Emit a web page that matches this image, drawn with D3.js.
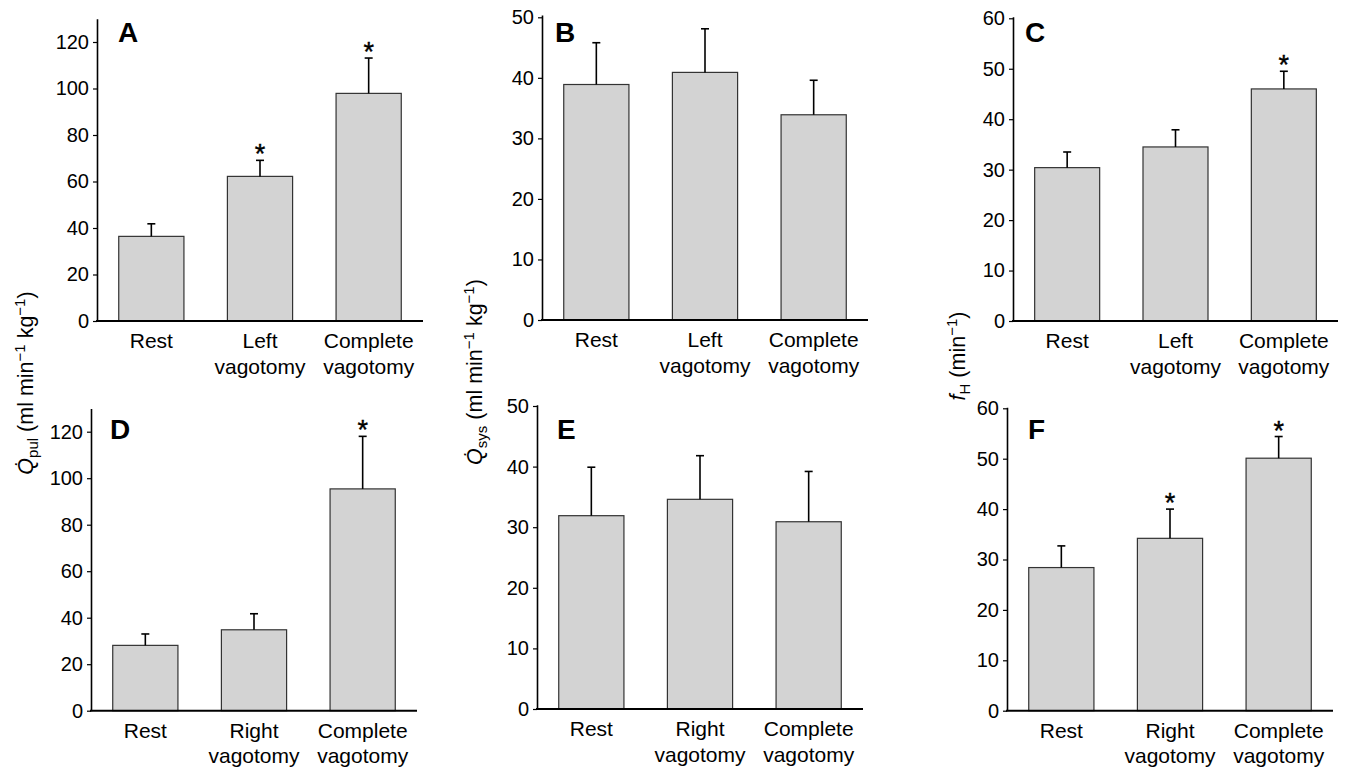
<!DOCTYPE html>
<html><head><meta charset="utf-8">
<script src="https://cdn.jsdelivr.net/npm/d3@7"></script>
<style>
html,body{margin:0;padding:0;background:#fff;}
text{font-family:"Liberation Sans",Arial,Helvetica,sans-serif;fill:#000;}
</style></head>
<body>
<svg id="chart" width="1345" height="774"></svg>
<script>
// ---- data ----
const categoriesTop = [["Rest"], ["Left", "vagotomy"], ["Complete", "vagotomy"]];
const categoriesBottom = [["Rest"], ["Right", "vagotomy"], ["Complete", "vagotomy"]];

const meanA = [36.4, 62.2, 97.9];
const semA  = [5.4, 6.9, 15.2];
const sigA  = [false, true, true];

const meanB = [38.9, 40.9, 33.9];
const semB  = [6.9, 7.2, 5.7];
const sigB  = [false, false, false];

const meanC = [30.4, 34.5, 46.0];
const semC  = [3.1, 3.4, 3.5];
const sigC  = [false, false, true];

const meanD = [28.1, 34.8, 95.4];
const semD  = [4.9, 6.9, 22.6];
const sigD  = [false, false, true];

const meanE = [31.9, 34.6, 30.9];
const semE  = [8.0, 7.2, 8.3];
const sigE  = [false, false, false];

const meanF = [28.4, 34.2, 50.1];
const semF  = [4.3, 5.8, 4.3];
const sigF  = [false, true, true];

const ticksQpul = [0, 20, 40, 60, 80, 100, 120];
const ticksQsys = [0, 10, 20, 30, 40, 50];
const ticksFH   = [0, 10, 20, 30, 40, 50, 60];

// ---- layout ----
const panels = [
  {letter:"A", cats:categoriesTop, mean:meanA, sem:semA, sig:sigA, ticks:ticksQpul, ymax:130,  x0:97,   x1:423,  y0:321,   yTopVal:120, yTopPx:42,    lx:118,  ly:42},
  {letter:"B", cats:categoriesTop, mean:meanB, sem:semB, sig:sigB, ticks:ticksQsys, ymax:50.4, x0:542,  x1:868,  y0:320,   yTopVal:50,  yTopPx:17.3,  lx:555,  ly:42},
  {letter:"C", cats:categoriesTop, mean:meanC, sem:semC, sig:sigC, ticks:ticksFH,   ymax:60.3, x0:1013, x1:1338, y0:321,   yTopVal:60,  yTopPx:18.3,  lx:1025, ly:42},
  {letter:"D", cats:categoriesBottom, mean:meanD, sem:semD, sig:sigD, ticks:ticksQpul, ymax:130, x0:91,  x1:417,  y0:710.7, yTopVal:120, yTopPx:431.7, lx:110,  ly:439},
  {letter:"E", cats:categoriesBottom, mean:meanE, sem:semE, sig:sigE, ticks:ticksQsys, ymax:50.2, x0:537, x1:863, y0:709,   yTopVal:50,  yTopPx:406,   lx:557,  ly:439},
  {letter:"F", cats:categoriesBottom, mean:meanF, sem:semF, sig:sigF, ticks:ticksFH,   ymax:60.2, x0:1007, x1:1333, y0:710.7, yTopVal:60,  yTopPx:408.3, lx:1028, ly:439}
];

const svg = d3.select("#chart");

panels.forEach(p => {
  const g = svg.append("g");
  const pxPerUnit = (p.y0 - p.yTopPx) / p.yTopVal;
  const y = d3.scaleLinear().domain([0, p.ymax]).range([p.y0, p.y0 - p.ymax * pxPerUnit]);
  const x = d3.scaleBand().domain(d3.range(p.mean.length)).range([p.x0, p.x1])
              .paddingInner(0.4).paddingOuter(0.2);

  // y axis
  const yAxis = d3.axisLeft(y).tickValues(p.ticks).tickSize(4).tickSizeOuter(0).tickPadding(4);
  const ya = g.append("g").attr("transform", `translate(${p.x0},0)`).call(yAxis);
  ya.select(".domain").attr("stroke", "#000").attr("stroke-width", 1.6);
  ya.selectAll(".tick line").attr("stroke", "#000").attr("stroke-width", 1.2);
  ya.selectAll(".tick text").attr("font-size", 20).attr("font-family", "Liberation Sans, Arial, sans-serif").attr("fill", "#000");

  // bars
  g.selectAll("rect.bar").data(p.mean).enter().append("rect")
    .attr("x", (d, i) => x(i))
    .attr("y", d => y(d))
    .attr("width", x.bandwidth())
    .attr("height", d => y(0) - y(d))
    .attr("fill", "#d3d3d3")
    .attr("stroke", "#333")
    .attr("stroke-width", 1.2);

  // error bars
  const cap = 4;
  p.mean.forEach((m, i) => {
    const cx = x(i) + x.bandwidth() / 2;
    const top = y(m + p.sem[i]);
    g.append("line").attr("x1", cx).attr("x2", cx).attr("y1", y(m)).attr("y2", top)
      .attr("stroke", "#000").attr("stroke-width", 1.6);
    g.append("line").attr("x1", cx - cap).attr("x2", cx + cap).attr("y1", top).attr("y2", top)
      .attr("stroke", "#000").attr("stroke-width", 1.6);
    if (p.sig[i]) {
      g.append("text").attr("x", cx).attr("y", top + 3).attr("text-anchor", "middle")
        .attr("font-size", 27).attr("stroke", "#000").attr("stroke-width", 0.4).text("*");
    }
  });

  // x axis line
  g.append("line").attr("x1", p.x0 - 1).attr("x2", p.x1).attr("y1", y(0)).attr("y2", y(0))
    .attr("stroke", "#000").attr("stroke-width", 2);

  // category labels
  p.cats.forEach((lines, i) => {
    const cx = x(i) + x.bandwidth() / 2;
    const t = g.append("text").attr("text-anchor", "middle").attr("font-size", 21);
    lines.forEach((ln, j) => {
      t.append("tspan").attr("x", cx).attr("y", y(0) + 27 + j * 25.5).text(ln);
    });
  });

  // panel letter
  g.append("text").attr("x", p.lx).attr("y", p.ly)
    .attr("font-size", 28).attr("font-weight", "bold").text(p.letter);
});

// y-axis titles
function yTitle(xPos, yCenter, build) {
  const t = svg.append("text").attr("transform", `translate(${xPos},${yCenter}) rotate(-90)`)
    .attr("text-anchor", "middle").attr("font-size", 21.5);
  build(t);
}
function qTitle(t, sub) {
  t.append("tspan").attr("font-style", "italic").text("Q\u0307");
  t.append("tspan").attr("font-size", 15).attr("dy", 5).text(sub);
  t.append("tspan").attr("dy", -5).text(" (ml min");
  t.append("tspan").attr("font-size", 15).attr("dy", -8).text("\u22121");
  t.append("tspan").attr("dy", 8).text(" kg");
  t.append("tspan").attr("font-size", 15).attr("dy", -8).text("\u22121");
  t.append("tspan").attr("dy", 8).text(")");
}
yTitle(33, 383, t => qTitle(t, "pul"));
yTitle(482, 372, t => qTitle(t, "sys"));
yTitle(965, 356, t => {
  t.append("tspan").attr("font-style", "italic").text("f");
  t.append("tspan").attr("font-size", 15).attr("dy", 5).text("H");
  t.append("tspan").attr("dy", -5).text(" (min");
  t.append("tspan").attr("font-size", 15).attr("dy", -8).text("\u22121");
  t.append("tspan").attr("dy", 8).text(")");
});
</script>
</body></html>
